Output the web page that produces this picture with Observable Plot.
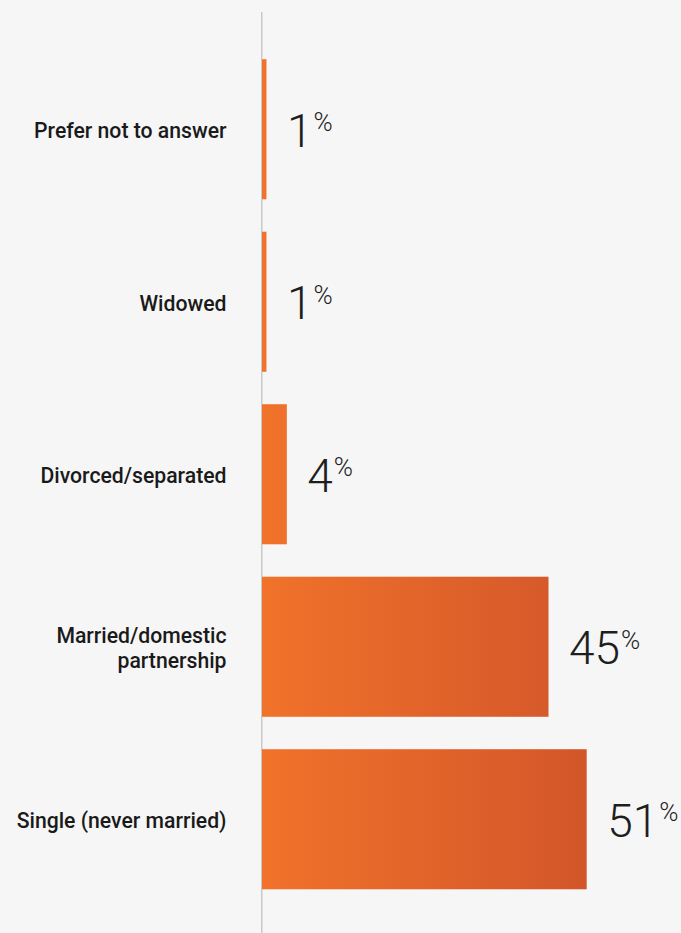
<!DOCTYPE html>
<html>
<head>
<meta charset="utf-8">
<script src="https://cdn.jsdelivr.net/npm/d3@7"></script>
<script src="https://cdn.jsdelivr.net/npm/@observablehq/plot@0.6"></script>
<style>
  html, body { margin: 0; padding: 0; background: #f6f6f6; }
  #chart svg { display: block; }
</style>
</head>
<body>
<div id="chart"></div>
<script>
// Data
const categories = [
  "Prefer not to answer",
  "Widowed",
  "Divorced/separated",
  "Married/domestic\npartnership",
  "Single (never married)"
];
const values = [0.7, 0.7, 3.9, 45, 51];      // bar lengths (%)
const labels = ["1", "1", "4", "45", "51"];  // printed values (%)

const data = categories.map((c, i) => ({category: c, value: values[i], label: labels[i]}));

const gradientDefs = (index, scales) => {
  const defs = d3.create("svg:defs");
  const g = defs.append("linearGradient")
    .attr("id", "barGrad")
    .attr("gradientUnits", "userSpaceOnUse")
    .attr("x1", scales.x(0)).attr("x2", scales.x(d3.max(values)))
    .attr("y1", 0).attr("y2", 0);
  g.append("stop").attr("offset", "0%").attr("stop-color", "#f1722a");
  g.append("stop").attr("offset", "100%").attr("stop-color", "#d3562a");
  return defs.node();
};

const chart = Plot.plot({
  width: 681,
  height: 933,
  marginLeft: 262,
  marginRight: 37,
  marginTop: 43,
  marginBottom: 27.5,
  style: {background: "#f6f6f6", fontFamily: "Roboto, sans-serif"},
  x: {domain: [0, 60], axis: null},
  y: {domain: categories, paddingInner: 0.188, paddingOuter: 0.094, round: false, label: null},
  marks: [
    gradientDefs,
    Plot.ruleX([0], {stroke: "#c9c9c9", strokeWidth: 1.5, dx: -0.75, insetTop: -31, insetBottom: -28}),
    Plot.barX(data, {x: "value", y: "category", fill: "url(#barGrad)"}),
    Plot.axisY({
      tickSize: 0,
      tickPadding: 36,
      fontSize: 21.2,
      fontWeight: 500,
      lineHeight: 1.17,
      fill: "#1a1a1a",
      dy: 0.5,
      label: null
    }),
    Plot.text(data, {
      x: "value",
      y: "category",
      text: "label",
      dx: 20,
      dy: 2.5,
      textAnchor: "start",
      fontSize: 46,
      fontWeight: 300,
      fill: "#1e1e1e"
    })
  ]
});

// superscript percent signs on the value labels
d3.select(chart).selectAll("g[aria-label='text'] text").each(function() {
  d3.select(this).append("tspan")
    .attr("font-size", 26)
    .attr("dx", 1)
    .attr("dy", -15.5)
    .text("%");
});

document.getElementById("chart").appendChild(chart);
</script>
</body>
</html>
